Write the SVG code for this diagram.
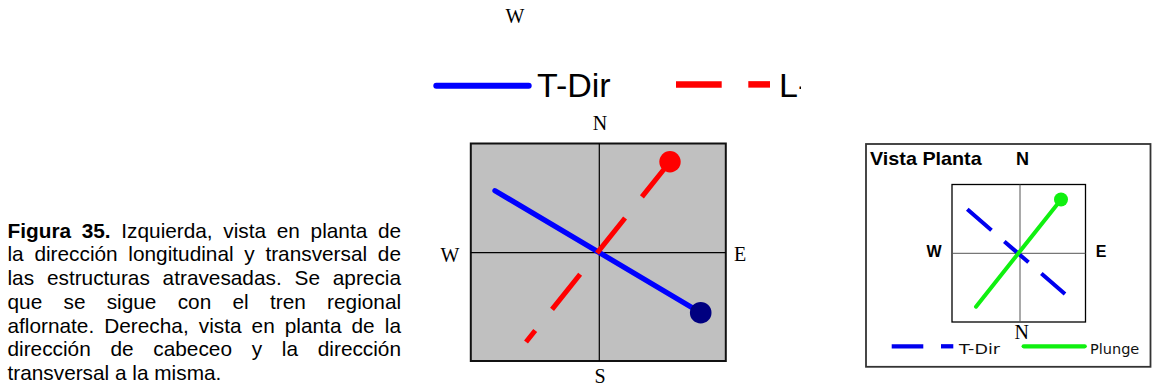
<svg xmlns="http://www.w3.org/2000/svg" width="1152" height="388" viewBox="0 0 1152 388">
<defs>
<style>
.cap{font-family:"Liberation Sans",Arial,sans-serif;font-size:20.8px;fill:#000}
.ser{font-family:"Liberation Serif","Times New Roman",serif;font-size:20px;fill:#000;text-anchor:middle}
.bold{font-family:"Liberation Sans",Arial,sans-serif;font-weight:bold;fill:#000}
.small{font-family:"DejaVu Sans",Verdana,sans-serif;font-size:14.5px;fill:#111}
</style>
<clipPath id="clipL"><rect x="770" y="60" width="31" height="50"/></clipPath>
</defs>
<rect width="1152" height="388" fill="#fff"/>

<g id="caption">
<text class="cap" x="7.5" y="237.5" word-spacing="4.9"><tspan font-weight="bold">Figura 35.</tspan> Izquierda, vista en planta de</text>
<text class="cap" x="7.5" y="261.3" word-spacing="4.94">la dirección longitudinal y transversal de</text>
<text class="cap" x="7.5" y="285" word-spacing="7.05">las estructuras atravesadas. Se aprecia</text>
<text class="cap" x="7.5" y="308.8" word-spacing="15.5">que se sigue con el tren regional</text>
<text class="cap" x="7.5" y="332.6" word-spacing="4.3">aflornate. Derecha, vista en planta de la</text>
<text class="cap" x="7.5" y="356.4" word-spacing="13.96">dirección de cabeceo y la dirección</text>
<text class="cap" x="7.5" y="380">transversal a la misma.</text>
</g>

<g id="top-label">
<text class="ser" x="515" y="23">W</text>
</g>

<g id="legend-left">
<line x1="436.3" y1="85.7" x2="528.7" y2="85.7" stroke="#0000ff" stroke-width="6" stroke-linecap="round"/>
<text x="537" y="96.5" font-family="'Liberation Sans',Arial,sans-serif" font-size="34" fill="#000">T-Dir</text>
<line x1="676" y1="84.4" x2="721.7" y2="84.4" stroke="#ff0000" stroke-width="6.5"/>
<line x1="748.3" y1="84.4" x2="770" y2="84.4" stroke="#ff0000" stroke-width="6.5"/>
<g clip-path="url(#clipL)"><text x="779" y="96.5" font-family="'Liberation Sans',Arial,sans-serif" font-size="34" fill="#000">L-</text></g>
</g>

<g id="plan-left">
<rect x="470.8" y="143.5" width="255" height="217.5" fill="#c0c0c0" stroke="#111" stroke-width="2"/>
<line x1="599.3" y1="143.5" x2="599.3" y2="361" stroke="#000" stroke-width="1.2"/>
<line x1="470.8" y1="252.7" x2="725.8" y2="252.7" stroke="#000" stroke-width="1.2"/>
<text class="ser" x="600" y="130">N</text>
<text class="ser" x="450" y="261.5">W</text>
<text class="ser" x="740" y="260.5">E</text>
<text class="ser" x="600" y="383">S</text>
</g>

<g id="connectors">
<line x1="495" y1="190.7" x2="700.7" y2="312.7" stroke="#0000ff" stroke-width="5.3" stroke-linecap="round"/>
<circle cx="700.7" cy="312.7" r="10.8" fill="#000080"/>
<line x1="670" y1="161.7" x2="526" y2="342" stroke="#ff0000" stroke-width="5" stroke-dasharray="45 27"/>
<circle cx="670" cy="161.7" r="10.7" fill="#ff0000"/>
</g>

<g id="plan-right">
<rect x="866" y="144" width="284.5" height="222.8" fill="#fff" stroke="#333" stroke-width="1.8"/>
<text class="bold" x="870" y="165" font-size="19" textLength="111.7" lengthAdjust="spacingAndGlyphs">Vista Planta</text>
<text class="bold" x="1016" y="165" font-size="18">N</text>
<rect x="952" y="184.5" width="133.5" height="137.5" fill="#fff" stroke="#000" stroke-width="1.3"/>
<line x1="1020" y1="184.5" x2="1020" y2="322" stroke="#555" stroke-width="1"/>
<line x1="952" y1="253.3" x2="1085.5" y2="253.3" stroke="#555" stroke-width="1"/>
<text class="bold" x="934" y="256.7" font-size="16" text-anchor="middle">W</text>
<text class="bold" x="1101" y="256.7" font-size="16" text-anchor="middle">E</text>
<line x1="967.3" y1="209.3" x2="1065" y2="294" stroke="#0000ee" stroke-width="4" stroke-dasharray="32 17"/>
<line x1="976" y1="306.7" x2="1060.7" y2="200" stroke="#10f010" stroke-width="4" stroke-linecap="round"/>
<circle cx="1061" cy="199.5" r="7" fill="#10f010"/>
<text class="ser" x="1021.7" y="339">N</text>
<line x1="891.7" y1="346.3" x2="923.3" y2="346.3" stroke="#0000ee" stroke-width="4.3"/>
<line x1="941" y1="346.3" x2="953.3" y2="346.3" stroke="#0000ee" stroke-width="4.3"/>
<text class="small" x="959" y="354" textLength="41" lengthAdjust="spacingAndGlyphs">T-Dir</text>
<line x1="1023.7" y1="346.3" x2="1084.7" y2="346.3" stroke="#10f010" stroke-width="4.3" stroke-linecap="round"/>
<text class="small" x="1090" y="354" textLength="49.3" lengthAdjust="spacingAndGlyphs">Plunge</text>
</g>
</svg>
